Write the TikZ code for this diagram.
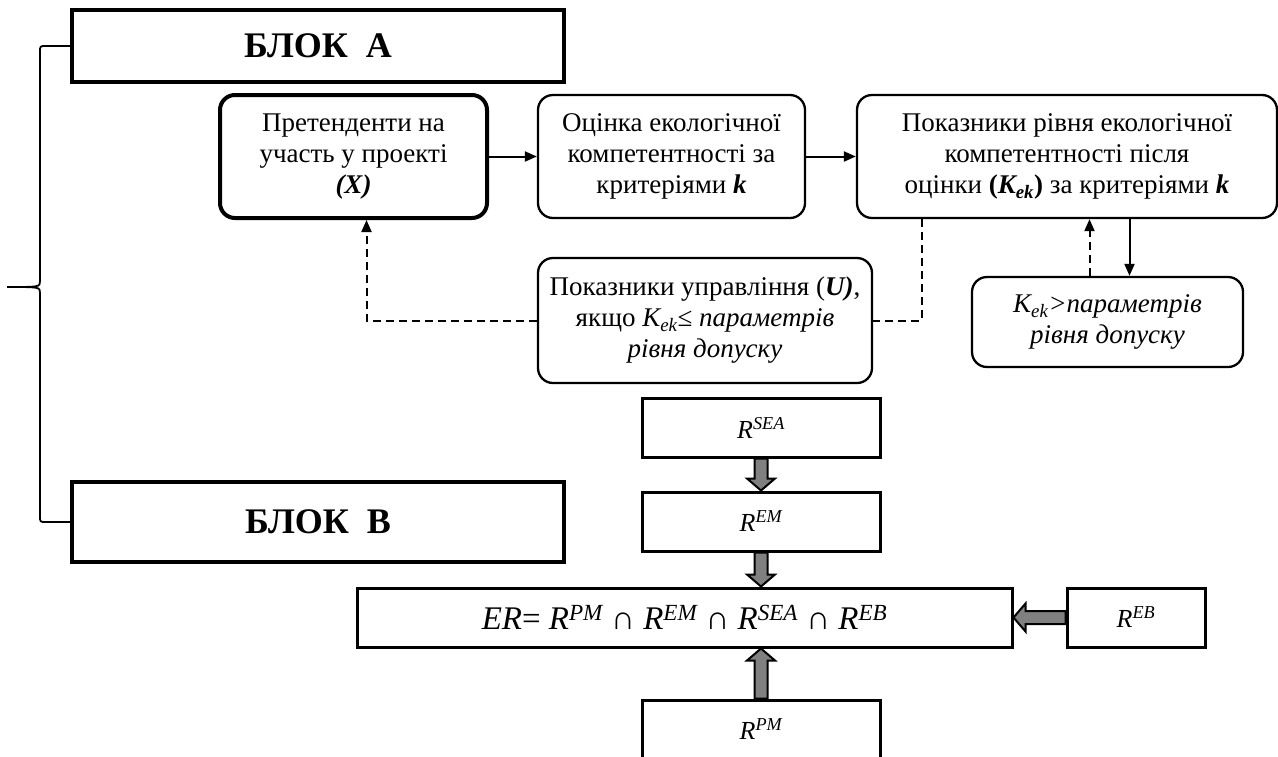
\documentclass[tikz,border=0pt]{standalone}
\usepackage{fontspec}
\setmainfont{Liberation Serif}
\usetikzlibrary{arrows.meta,calc}
\definecolor{arrowgrey}{RGB}{128,128,128}
\newcommand\fatarrow[2]{%
  \draw[fatline] let \p1=(#1), \p2=(#2), \n1={atan2(\y2-\y1,\x2-\x1)}, \n2={veclen(\x2-\x1,\y2-\y1)} in
    [shift={(\p1)}, rotate=\n1] (0pt,-6.5pt) -- (\n2-12pt,-6.5pt) -- (\n2-12pt,-14pt) -- (\n2,0pt)
    -- (\n2-12pt,14pt) -- (\n2-12pt,6.5pt) -- (0pt,6.5pt) -- cycle;}

\begin{document}
\begin{tikzpicture}[x=1pt,y=-1pt,>={Triangle[length=12pt,width=10pt]},
  txt/.style={font=\fontsize{27}{31}\selectfont, align=center, inner sep=0pt},
  rbox/.style={draw, rounded corners=15pt, line width=2.3pt, txt},
  blok/.style={draw, line width=4.5pt, font=\fontsize{36}{40}\selectfont\bfseries, inner sep=0pt},
  rset/.style={draw, line width=3pt, font=\fontsize{26}{30}\selectfont\itshape, inner sep=0pt},
  fatline/.style={draw, line width=2pt, fill=arrowgrey, line join=miter},
  backline/.style={line width=2pt, dash pattern=on 8pt off 5pt}]
\useasboundingbox (0,0) rectangle (1278,756);
\node[blok, minimum width=492pt, minimum height=72pt] (blokA) at (318,46) {БЛОК~~А};
\node[blok, minimum width=492pt, minimum height=80pt] (blokB) at (318,522) {БЛОК~~В};
\draw[line width=1.8pt] (blokA.west) -- (46,46) .. controls (40,46) .. (40,52) -- (40,281)
  .. controls (40,287) .. (7,287) .. controls (40,287) .. (40,293) -- (40,516)
  .. controls (40,522) .. (46,522) -- (blokB.west);
\node[rbox, line width=4pt, minimum width=267pt, minimum height=123pt] (prt) at (353.5,156.5)
  {Претенденти на\\участь у проекті\\\textbf{\textit{(X)}}};
\node[rbox, minimum width=267pt, minimum height=123pt] (ocn) at (671.5,156.5)
  {Оцінка екологічної\\компетентності за\\критеріями \textbf{\textit{k}}};
\node[rbox, minimum width=420pt, minimum height=123pt] (pokaz) at (1067,156.5)
  {Показники рівня екологічної\\компетентності після\\оцінки \textbf{(\textit{K\textsubscript{ek}})} за критеріями \textbf{\textit{k}}};
\node[rbox, minimum width=334pt, minimum height=125pt] (upr) at (705,320.5)
  {Показники управління (\textbf{\textit{U)}},\\якщо \textit{K\textsubscript{ek}}≤ \textit{параметрів}\\\textit{рівня допуску}};
\node[rbox, minimum width=271pt, minimum height=90pt] (kek) at (1107.5,322)
  {\textit{K\textsubscript{ek}>параметрів}\\\textit{рівня допуску}};
\draw[line width=2pt,->] (prt) -- (ocn);
\draw[line width=2pt,->] (ocn) -- (pokaz);
\coordinate (dnout) at ($(pokaz.south west)+(66,0)$);
\draw[backline] (dnout) |- (upr.east);
\draw[backline,->] (upr.west) -| ($(prt.south)+(13,0)$);
\coordinate (kup) at ($(kek.north)+(-18,0)$);
\coordinate (kdn) at ($(kek.north)+(22,0)$);
\draw[backline,->] (kup) -- (kup |- pokaz.south);
\draw[line width=2pt,->] (kdn |- pokaz.south) -- (kdn);
\node[rset, minimum width=238pt, minimum height=59pt] (sea) at (761,427.5) {R\textsuperscript{SEA}};
\node[rset, minimum width=238pt, minimum height=59pt] (em) at (761,521.5) {R\textsuperscript{EM}};
\node[rset, minimum width=655pt, minimum height=59pt, font=\fontsize{33}{36}\selectfont] (er) at (684.5,617.5)
  {\textit{ER}= \textit{R\textsuperscript{PM}} ∩ \textit{R\textsuperscript{EM}} ∩ \textit{R\textsuperscript{SEA}} ∩ \textit{R\textsuperscript{EB}}};
\node[rset, minimum width=138pt, minimum height=59pt] (eb) at (1136,617.5) {R\textsuperscript{EB}};
\node[rset, minimum width=238pt, minimum height=59pt] (pm) at (761,729.5) {R\textsuperscript{PM}};
\fatarrow{sea.south}{em.north}
\fatarrow{em.south}{er.north -| em.south}
\fatarrow{pm.north}{er.south -| pm.north}
\fatarrow{eb.west}{er.east |- eb.west}
\end{tikzpicture}
\end{document}
